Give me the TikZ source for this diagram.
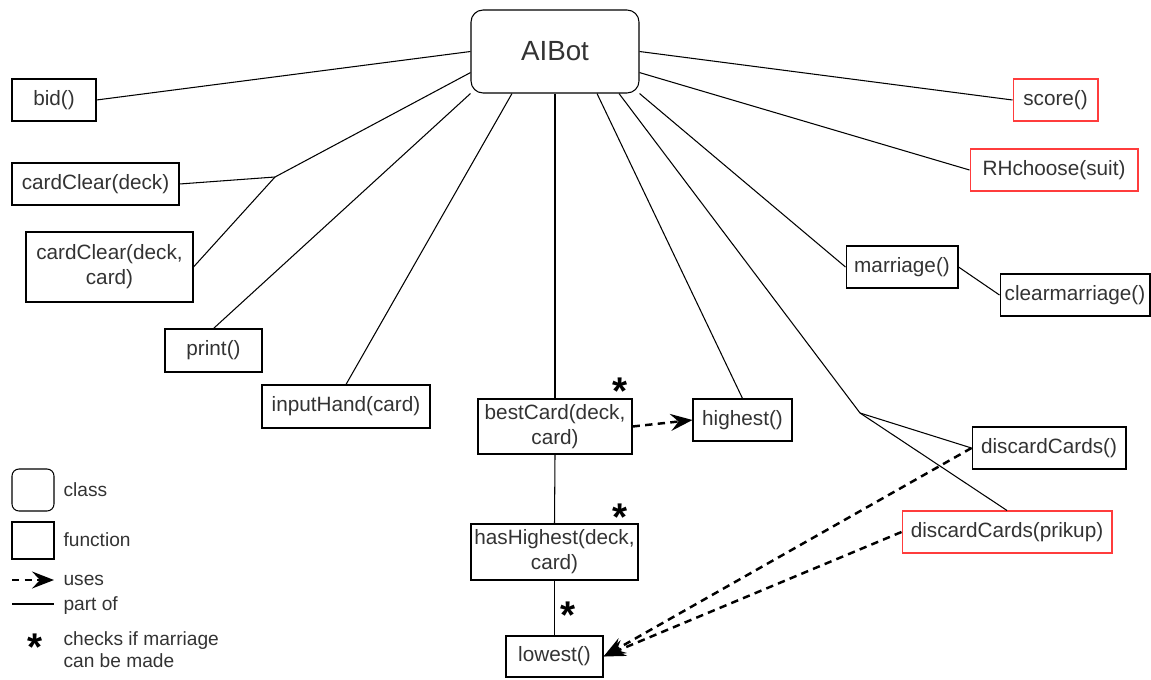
\documentclass[tikz,border=0pt]{standalone}
\usepackage{fontspec}
\setmainfont{Liberation Sans}
\usepackage{xcolor}
\usepackage{tikz}
\usetikzlibrary{arrows.meta,calc}
\definecolor{txtgray}{RGB}{51,51,51}
\definecolor{redline}{RGB}{255,60,60}
\newcommand{\mstar}{\raisebox{-8.6pt}[7.2pt][0pt]{*}}

\begin{document}
\begin{tikzpicture}[x=0.02cm, y=-0.02cm, >={Stealth[length=4.4mm,width=3.4mm,inset=1.6mm]},
 line width=0.6pt,
 cls/.style={draw,rounded corners=2.4mm,minimum width=3.36cm,minimum height=1.66cm,inner sep=0pt,
   text=txtgray,font=\fontsize{15.8}{19}\selectfont},
 fn/.style={draw,minimum height=8.4mm,inner sep=0pt,align=center,text=txtgray,
   font=\fontsize{11.8}{14.2}\selectfont},
 redfn/.style={fn,draw=redline},
 uses/.style={->,dashed,line width=1.4pt,dash pattern=on 4.2pt off 3pt},
 legtext/.style={anchor=west,inner sep=0pt,align=left,text=txtgray,font=\fontsize{10.9}{12.5}\selectfont},
 star/.style={inner sep=0pt,font=\fontsize{22}{22}\bfseries\selectfont}]
\useasboundingbox (0,0) rectangle (1151,679);

% class
\node[cls] (aibot) at (555,51.5) {AIBot};

% left side
\node[fn, minimum width=1.68cm] (bid) at (54,100) {bid()};
\node[fn, minimum width=3.34cm] (ccdeck) at (95.5,184) {cardClear(deck)};
\node[fn, minimum width=3.34cm, minimum height=1.4cm] (ccdeckcard) at (109.5,267) {cardClear(deck,\\card)};
\node[fn, minimum width=1.94cm, minimum height=8.6mm] (print) at (213.5,350.5) {print()};
\node[fn, minimum width=3.36cm, minimum height=8.6mm] (inhand) at (346,406.5) {inputHand(card)};
\coordinate (jleft) at (275,177);

% middle
\node[fn, minimum width=3.08cm, minimum height=1.1cm] (best) at (555,426.5) {bestCard(deck,\\card)};
\node[fn, minimum width=1.98cm] (highest) at (742.5,420) {highest()};
\node[fn, minimum width=3.34cm, minimum height=1.12cm] (hashigh) at (554.5,552) {hasHighest(deck,\\card)};
\node[fn, minimum width=1.94cm, minimum height=8.2mm] (lowest) at (554.5,656.5) {lowest()};

% right side
\node[redfn, minimum width=1.7cm] (score) at (1055.5,100) {score()};
\node[redfn, minimum width=3.36cm] (rhchoose) at (1054,170) {RHchoose(suit)};
\node[fn, minimum width=2.24cm] (marriage) at (902,267) {marriage()};
\node[fn, minimum width=3.0cm] (clearm) at (1075,295) {clearmarriage()};
\node[fn, minimum width=3.08cm] (discard) at (1049,448) {discardCards()};
\node[redfn, minimum width=4.2cm] (prikup) at (1007,532) {discardCards(prikup)};
\coordinate (jright) at (860,413);

% part of
\draw (aibot.west) -- (bid.east);
\draw (aibot.194) -- (jleft);
\draw (jleft) -- (ccdeck.east);
\draw (jleft) -- (ccdeckcard.east);
\draw (aibot.south west) -- (print.north);
\draw ($(aibot.south)+(-43,0)$) -- (inhand.north);
\draw (aibot.south) -- (best.north);
\draw (best.south) -- (hashigh.north);
\draw (hashigh.south) -- (lowest.north);
\draw ($(aibot.south)+(42,0)$) -- (highest.north);
\draw ($(aibot.south)+(64,0)$) -- (jright);
\draw (jright) -- (discard.west);
\draw (jright) -- (prikup.north);
\draw (aibot.south east) -- (marriage.west);
\draw (marriage.east) -- (clearm.west);
\draw (aibot.east) -- (score.west);
\draw (aibot.-14) -- (rhchoose.west);

% uses
\draw[uses] (best.east) -- (highest.west);
\draw[uses] (discard.west) -- (lowest.east);
\draw[uses] (prikup.west) -- (lowest.east);

% marriage checks
\node[star] (s1) at (620,383) {\mstar};
\node[star] (s2) at (620,509) {\mstar};
\node[star] (s3) at (568,607) {\mstar};

% legend
\node[draw,rounded corners=1.4mm,minimum width=0.84cm,minimum height=0.84cm,inner sep=0pt] (legcls) at (33,490) {};
\node[draw,minimum width=0.84cm,minimum height=0.74cm,inner sep=0pt] (legfn) at (33,540.5) {};
\coordinate (lua) at (12,580);
\coordinate (lub) at (54,580);
\coordinate (lpa) at (12,604);
\coordinate (lpb) at (54,604);
\draw[uses] (lua) -- (lub);
\draw (lpa) -- (lpb);
\node[star] (legstar) at (35,639) {\mstar};
\node[legtext] (tcls) at (63,490) {class};
\node[legtext] (tfn) at (63,540) {function};
\node[legtext] (tuses) at (63,580) {uses};
\node[legtext] (tpart) at (63,606) {part of};
\node[legtext] (tstar) at (63,650) {checks if marriage\\can be made};
\end{tikzpicture}
\end{document}
